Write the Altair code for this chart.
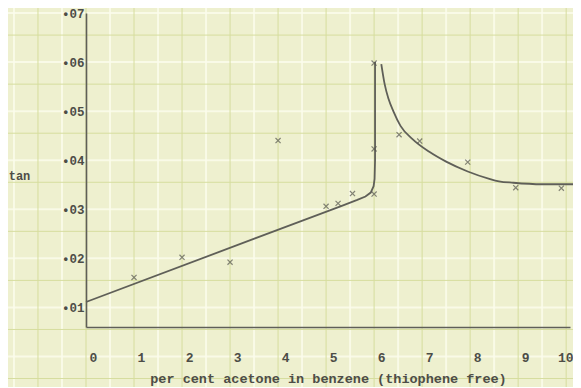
import altair as alt
import pandas as pd

# measured points (crosses)
PT_X = [1.0, 2.0, 3.0, 4.0, 5.0, 5.25, 5.55, 6.0, 6.0, 6.0, 6.52, 6.95, 7.95, 8.95, 9.9]
PT_Y = [0.0161, 0.0202, 0.0192, 0.0440, 0.0306, 0.0312, 0.0332, 0.0331, 0.0423, 0.0598,
        0.0452, 0.0439, 0.0396, 0.0344, 0.0343]

# hand-drawn curve, left branch (straight line then vertical rise)
C1_X = [0.0, 5.3, 5.65, 5.82, 5.93, 5.99, 6.01, 6.02, 6.02]
C1_Y = [0.0111, 0.0306, 0.0319, 0.0326, 0.0334, 0.0347, 0.0362, 0.0400, 0.0600]

# right branch (decay to plateau)
C2_X = [6.15, 6.22, 6.3, 6.4, 6.55, 6.8, 7.15, 7.5, 7.95, 8.4, 8.6, 8.9, 9.5, 10.3]
C2_Y = [0.0596, 0.0555, 0.0525, 0.0500, 0.0470, 0.0443, 0.0417, 0.0397, 0.0377,
        0.0362, 0.0357, 0.0354, 0.0351, 0.0351]

X_TICKS = [0, 1, 2, 3, 4, 5, 6, 7, 8, 9, 10]
Y_TICKS = [0.01, 0.02, 0.03, 0.04, 0.05, 0.06, 0.07]

# graph-paper lines
PAPER_GREEN_X = [-1, 0, 1, 2, 3, 4, 5, 6, 7, 8, 9, 10]
PAPER_GREEN_Y = [-0.0045, 0.0055, 0.0155, 0.0255, 0.0355, 0.0455, 0.0555, 0.0655]
PAPER_WHITE_X = [-1.5, -0.5, 0.5, 1.5, 2.5, 3.5, 4.5, 5.5, 6.5, 7.5, 8.5, 9.5, 10.5]
PAPER_WHITE_Y = [0.0, 0.01, 0.02, 0.03, 0.04, 0.05, 0.06, 0.07]

W, H = 484, 314
FONT = "Liberation Mono"
INK = "#5f5f58"

X_SCALE = alt.Scale(domain=[0, 10.08], nice=False, zero=False)
Y_SCALE = alt.Scale(domain=[0.006, 0.07], nice=False, zero=False)

X_AXIS = alt.Axis(
    values=X_TICKS, title="per cent acetone in benzene (thiophene free)",
    grid=False, ticks=False, domainColor=INK, domainWidth=1.6, zindex=2,
    labelFont=FONT, labelFontWeight="bold", labelFontSize=13, labelColor="#4d4d47",
    labelPadding=24, labelOffset=7, labelFlush=False,
    labelAlign={"condition": {"test": "datum.value == 10", "value": "right"}, "value": "center"},
    titleFont=FONT, titleFontWeight="bold", titleFontSize=13.5, titleColor="#4d4d47",
    titlePadding=7,
)
Y_AXIS = alt.Axis(
    values=Y_TICKS, title="tan", labelExpr="'•' + substring(format(datum.value, '.2f'), 2)",
    grid=False, ticks=False, domainColor=INK, domainWidth=1.6, zindex=2,
    labelFont=FONT, labelFontWeight="bold", labelFontSize=12.5, labelColor="#4d4d47",
    labelPadding=2, labelFlush=False,
    titleFont=FONT, titleFontWeight="bold", titleFontSize=12, titleColor="#4d4d47",
    titleAngle=0, titleX=-67, titleY=162, titleAlign="center", titleBaseline="middle",
)

pts = pd.DataFrame({"x": PT_X, "y": PT_Y})
c1 = pd.DataFrame({"x": C1_X, "y": C1_Y, "o": range(len(C1_X))})
c2 = pd.DataFrame({"x": C2_X, "y": C2_Y})

gx = alt.Chart(pd.DataFrame({"x": PAPER_GREEN_X})).mark_rule(color="#d6dd9e", strokeWidth=1).encode(
    x=alt.X("x:Q", scale=X_SCALE, axis=X_AXIS), y=alt.value(-20), y2=alt.value(H + 80))
gy = alt.Chart(pd.DataFrame({"y": PAPER_GREEN_Y})).mark_rule(color="#d6dd9e", strokeWidth=1).encode(
    y=alt.Y("y:Q", scale=Y_SCALE, axis=Y_AXIS), x=alt.value(-90), x2=alt.value(W + 20))
wx = alt.Chart(pd.DataFrame({"x": PAPER_WHITE_X})).mark_rule(color="#fbfcec", strokeWidth=2, opacity=0.8).encode(
    x=alt.X("x:Q", scale=X_SCALE, axis=X_AXIS), y=alt.value(-20), y2=alt.value(H + 80))
wy = alt.Chart(pd.DataFrame({"y": PAPER_WHITE_Y})).mark_rule(color="#fbfcec", strokeWidth=2, opacity=0.8).encode(
    y=alt.Y("y:Q", scale=Y_SCALE, axis=Y_AXIS), x=alt.value(-90), x2=alt.value(W + 20))

line1 = alt.Chart(c1).mark_line(color=INK, strokeWidth=1.8).encode(
    x=alt.X("x:Q", scale=X_SCALE, axis=X_AXIS),
    y=alt.Y("y:Q", scale=Y_SCALE, axis=Y_AXIS),
    order="o:Q",
)
line2 = alt.Chart(c2).mark_line(color=INK, strokeWidth=1.8, interpolate="monotone").encode(
    x=alt.X("x:Q", scale=X_SCALE, axis=X_AXIS),
    y=alt.Y("y:Q", scale=Y_SCALE, axis=Y_AXIS),
)
crosses = alt.Chart(pts).mark_point(
    shape="M-1,-1L1,1M-1,1L1,-1", size=26, stroke="#55554e", strokeWidth=1.2, filled=False
).encode(
    x=alt.X("x:Q", scale=X_SCALE, axis=X_AXIS),
    y=alt.Y("y:Q", scale=Y_SCALE, axis=Y_AXIS),
)

chart = alt.layer(wx, wy, gx, gy, line1, line2, crosses).properties(
    width=W, height=H,
    autosize=alt.AutoSizeParams(type="none"),
    padding={"left": 78, "top": 5, "right": 3, "bottom": 60},
    background="#eef0cf",
).configure_view(stroke=None)

chart.save("out.html", embed_options={"renderer": "svg", "actions": False})
